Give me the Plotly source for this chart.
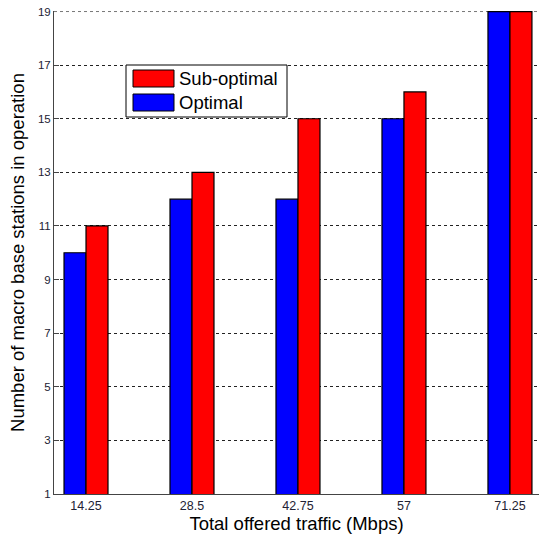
import plotly.graph_objects as go

categories = ["14.25", "28.5", "42.75", "57", "71.25"]
optimal = [10, 12, 12, 15, 19]
sub_optimal = [11, 13, 15, 16, 19]
y_ticks = [1, 3, 5, 7, 9, 11, 13, 15, 17, 19]

# plot-area geometry in window pixels
PL, PR, PT, PB = 54, 539, 11, 494

fig = go.Figure()
fig.add_trace(go.Bar(x=categories, y=optimal, name="Optimal", base=0,
                     marker=dict(color="#0000ff", line=dict(color="black", width=1.2)),
                     showlegend=False))
fig.add_trace(go.Bar(x=categories, y=sub_optimal, name="Sub-optimal", base=0,
                     marker=dict(color="#ff0000", line=dict(color="black", width=1.2)),
                     showlegend=False))

fig.update_layout(
    width=539, height=537,
    margin=dict(l=PL, r=539 - PR, t=PT, b=537 - PB, autoexpand=False),
    plot_bgcolor="white", paper_bgcolor="white",
    barmode="group", bargap=0.585, bargroupgap=0,
    font=dict(family="Liberation Sans, Arial", color="black"),
    xaxis=dict(type="category", range=[-0.302, 4.274], showgrid=False, automargin=False,
               showline=True, linecolor="#444444", linewidth=1,
               ticks="", tickfont=dict(size=12.5, color="#222233"),
               title=dict(text="Total offered traffic (Mbps)", font=dict(size=18.5), standoff=2)),
    yaxis=dict(range=[1, 19.02], tickvals=y_ticks, showgrid=True, automargin=False,
               gridcolor="#222222", griddash="3px,3px", gridwidth=1,
               showline=True, linecolor="#444444", linewidth=1,
               ticks="inside", ticklen=5, tickcolor="#444444",
               tickfont=dict(size=11.5, color="#222233"), zeroline=False,
               title=dict(text="Number of macro base stations in operation", font=dict(size=18.5), standoff=8)),
)

# top grid line (at the last y tick), drawn behind the bars
fig.add_shape(type="line", xref="paper", yref="y", x0=0, x1=1,
              y0=y_ticks[-1], y1=y_ticks[-1], layer="below",
              line=dict(color="#777777", width=1, dash="3px,3px"))

# Legend box drawn in paper coordinates (window pixel coords converted)
def px(x):
    return (x - PL) / (PR - PL)

def py(y):
    return (PB - y) / (PB - PT)

fig.add_shape(type="rect", xref="paper", yref="paper",
              x0=px(126), x1=px(287), y0=py(117), y1=py(65),
              line=dict(color="black", width=1), fillcolor="white", layer="above")
legend_items = [("Sub-optimal", "#ff0000", 78.5), ("Optimal", "#0000ff", 102.5)]
for label, color, yc in legend_items:
    fig.add_shape(type="rect", xref="paper", yref="paper",
                  x0=px(133), x1=px(174), y0=py(yc + 8.5), y1=py(yc - 8.5),
                  line=dict(color="black", width=1), fillcolor=color, layer="above")
    fig.add_annotation(xref="paper", yref="paper", x=px(177), y=py(yc),
                       text=label, showarrow=False, xanchor="left", yanchor="middle",
                       font=dict(size=18.5, color="black"))

fig.write_html("out.html", config={"displayModeBar": False},
               post_script="document.body.style.margin='0';document.body.style.overflow='hidden';")
